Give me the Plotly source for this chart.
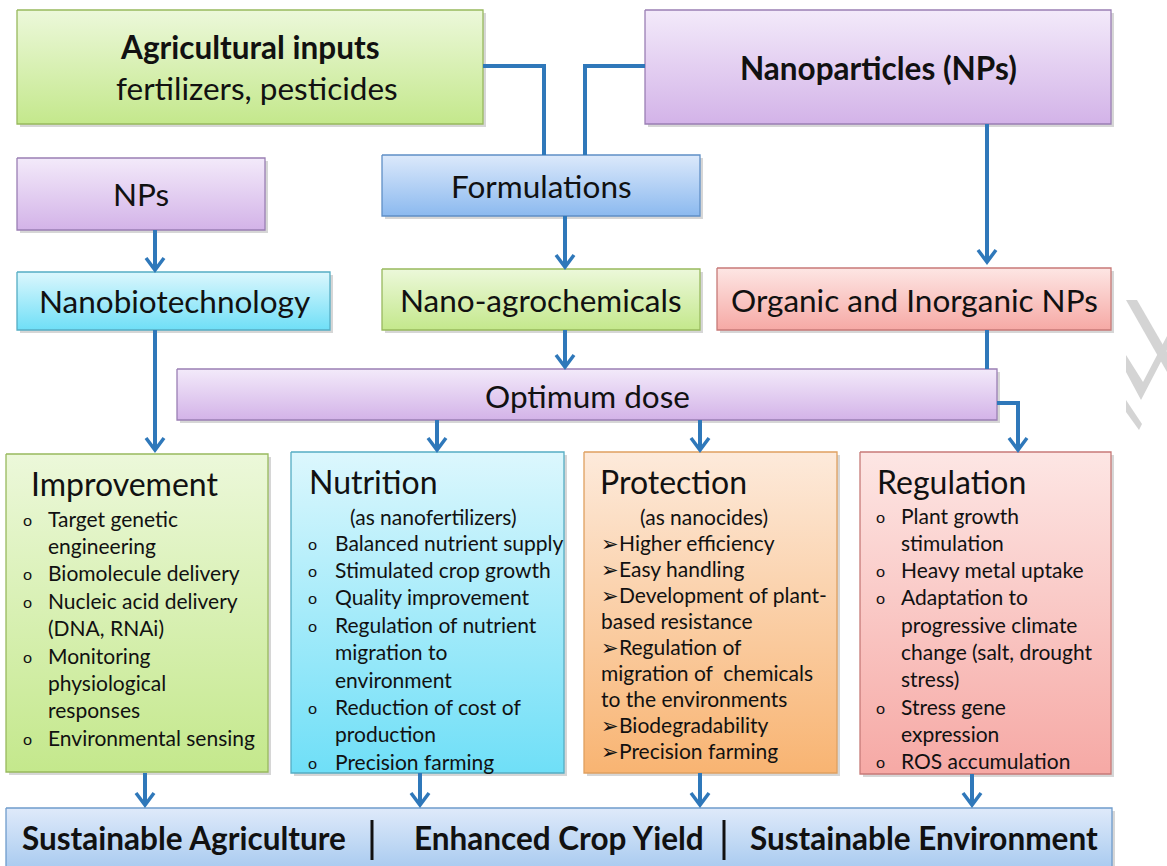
import plotly.graph_objects as go

# ---------------- text content ----------------
top_left_title = "Agricultural inputs"
top_left_sub = "fertilizers, pesticides"
top_right_title = "Nanoparticles (NPs)"
mid_labels = ["NPs", "Formulations", "Nanobiotechnology", "Nano-agrochemicals",
              "Organic and Inorganic NPs", "Optimum dose"]

panel_titles = ["Improvement", "Nutrition", "Protection", "Regulation"]
panel_subtitles = ["", "(as nanofertilizers)", "(as nanocides)", ""]
improvement_items = [["Target genetic", "engineering"], ["Biomolecule delivery"],
                     ["Nucleic acid delivery", "(DNA, RNAi)"],
                     ["Monitoring", "physiological", "responses"], ["Environmental sensing"]]
nutrition_items = [["Balanced nutrient supply"], ["Stimulated crop growth"], ["Quality improvement"],
                   ["Regulation of nutrient", "migration to", "environment"],
                   ["Reduction of cost of", "production"], ["Precision farming"]]
protection_items = [["Higher efficiency"], ["Easy handling"],
                    ["Development of plant-", "based resistance"],
                    ["Regulation of", "migration of  chemicals", "to the environments"],
                    ["Biodegradability"], ["Precision farming"]]
regulation_items = [["Plant growth", "stimulation"], ["Heavy metal uptake"],
                    ["Adaptation to", "progressive climate", "change (salt, drought", "stress)"],
                    ["Stress gene", "expression"], ["ROS accumulation"]]
panel_items = [improvement_items, nutrition_items, protection_items, regulation_items]
outcomes = ["Sustainable Agriculture", "Enhanced Crop Yield", "Sustainable Environment"]

# ---------------- layout geometry (pixels) ----------------
W, H = 1167, 866
FONT = "Lato, Carlito, Calibri, 'Open Sans', sans-serif"
ARROW = "#2f78ba"
BIG = 31.5
BODY = 21

palette = {
    "green":  ("#ecf8da", "#c4e88c", "#98b95e"),
    "purple": ("#f3eafa", "#d3b3e8", "#9a7fb4"),
    "blue":   ("#dce9fb", "#8bb9ef", "#5f8fc6"),
    "cyan":   ("#dcf7fd", "#6fdff7", "#55adc4"),
    "red":    ("#fde6e4", "#f6a9a5", "#c77a78"),
    "orange": ("#fdeadb", "#f8b472", "#dfa060"),
    "bottom": ("#dfeafa", "#a6c9ef", "#6f9ccc"),
}

boxes = [  # x0, y0, x1, y1, colour
    (17, 10, 483, 124, "green"),
    (645, 10, 1111, 124, "purple"),
    (17, 158, 265, 230, "purple"),
    (382, 155, 700, 216, "blue"),
    (17, 272, 330, 330, "cyan"),
    (382, 269, 700, 330, "green"),
    (717, 268, 1111, 330, "red"),
    (177, 369, 997, 420, "purple"),
    (6, 454, 268, 772, "green"),
    (291, 452, 564, 773, "cyan"),
    (584, 452, 837, 773, "orange"),
    (860, 452, 1111, 774, "red"),
    (6, 808, 1112, 872, "bottom"),
]

fig = go.Figure()
shapes = []
ann = []

for (x0, y0, x1, y1, c) in boxes:
    top, bot, edge = palette[c]
    shapes.append(dict(type="rect", xref="x", yref="y", x0=x0 + 3, y0=y0 + 3, x1=x1 + 3, y1=y1 + 3,
                       line=dict(width=0), fillcolor="rgba(0,0,0,0.16)", layer="below"))
    fig.add_trace(go.Scatter(
        x=[x0, x1, x1, x0, x0], y=[y0, y0, y1, y1, y0], mode="lines", fill="toself",
        fillgradient=dict(type="vertical", colorscale=[[0, bot], [1, top]]),
        line=dict(color=edge, width=1.3), hoverinfo="skip", showlegend=False))


def text(x, y, s, size, bold=False, anchor="center"):
    ann.append(dict(x=x, y=y, xref="x", yref="y", text=f"<b>{s}</b>" if bold else s,
                    showarrow=False, xanchor=anchor, yanchor="middle",
                    font=dict(family=FONT, size=size, color="#111111")))


text(250, 47, top_left_title, BIG, bold=True)
text(257, 88, top_left_sub, BIG)
text(878, 68, top_right_title, BIG, bold=True)
mid_pos = [(141, 194), (541, 186), (174, 301), (541, 300), (914, 300), (587, 396)]
for (px, py), s in zip(mid_pos, mid_labels):
    text(px, py, s, BIG)

# panels
title_x = [29, 307, 598, 875]
title_y = [483, 481, 481, 481]
sub_x = [0, 433, 704, 0]
sub_y = [0, 516, 516, 0]
bullet_x = [27, 312, 600, 880]
item_x = [46, 333, 614, 899]
cont_x = [46, 333, 599, 899]
first_y = [518, 542, 542, 515]
step = [27.4, 27.4, 26.0, 27.3]
bullet_char = ["o", "o", "➢", "o"]
for i in range(4):
    text(title_x[i], title_y[i], panel_titles[i], 32, anchor="left")
    if panel_subtitles[i]:
        text(sub_x[i], sub_y[i], panel_subtitles[i], BODY)
    y = first_y[i]
    for item in panel_items[i]:
        for j, line in enumerate(item):
            if j == 0:
                if bullet_char[i] == "o":
                    text(bullet_x[i], y + 1, "o", 16)
                    text(item_x[i], y, line, BODY, anchor="left")
                else:
                    text(cont_x[i], y, bullet_char[i] + line, BODY, anchor="left")
            else:
                text(cont_x[i], y, line, BODY, anchor="left")
            y += step[i]

# outcomes
out_x = [184, 559, 924]
for px, s in zip(out_x, outcomes):
    text(px, 838, s, BIG, bold=True)
for sx in [372, 724]:
    shapes.append(dict(type="line", xref="x", yref="y", x0=sx, x1=sx, y0=820, y1=860,
                       line=dict(color="#111111", width=3)))

# connectors
connectors = [
    ([(483, 66), (544, 66), (544, 155)], False),
    ([(645, 66), (585, 66), (585, 155)], False),
    ([(155, 230), (155, 270)], True),
    ([(565, 216), (565, 267)], True),
    ([(987, 124), (987, 262)], True),
    ([(155, 330), (155, 450)], True),
    ([(565, 330), (565, 367)], True),
    ([(987, 330), (987, 369)], False),
    ([(997, 403), (1018, 403), (1018, 450)], True),
    ([(437, 420), (437, 450)], True),
    ([(700, 420), (700, 450)], True),
    ([(145, 773), (145, 805)], True),
    ([(420, 773), (420, 805)], True),
    ([(700, 773), (700, 805)], True),
    ([(972, 774), (972, 805)], True),
]
for pts, head in connectors:
    path = "M " + " L ".join(f"{px},{py}" for px, py in pts)
    shapes.append(dict(type="path", xref="x", yref="y", path=path,
                       line=dict(color=ARROW, width=4)))
    if head:
        tx, ty = pts[-1]
        shapes.append(dict(type="path", xref="x", yref="y",
                           path=f"M {tx-9},{ty-12} L {tx},{ty} L {tx+9},{ty-12}",
                           line=dict(color=ARROW, width=3.5)))

# watermark fragments
wm = [
    "M 1126,300 L 1137,300 L 1167,352 L 1167,372 Z",
    "M 1126,355 L 1126,372 L 1141,400 L 1167,350 L 1167,336 L 1143,382 Z",
    "M 1126,400 L 1126,412 L 1139,430 L 1142,424 Z",
]
for p in wm:
    shapes.append(dict(type="path", xref="x", yref="y", path=p,
                       line=dict(width=0), fillcolor="#d4d4d4", layer="below"))

fig.update_layout(
    width=W, height=H, margin=dict(l=0, r=0, t=0, b=0),
    paper_bgcolor="white", plot_bgcolor="white",
    xaxis=dict(range=[0, W], visible=False, fixedrange=True),
    yaxis=dict(range=[H, 0], visible=False, fixedrange=True),
    shapes=shapes, annotations=ann, showlegend=False,
)
fig.write_html("out.html", config={"displayModeBar": False},
               post_script="document.body.style.margin='0';document.body.style.overflow='hidden';")
